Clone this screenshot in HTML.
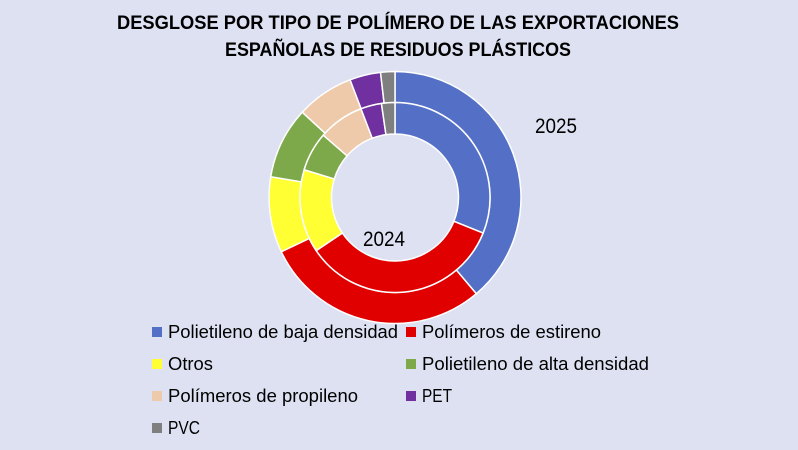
<!DOCTYPE html>
<html><head><meta charset="utf-8"><style>
html,body{margin:0;padding:0;background:#dde1f2;}
svg{display:block;}
text{font-family:"Liberation Sans",sans-serif;fill:#000;}
</style></head><body>
<svg id="s" width="798" height="450" viewBox="0 0 798 450">
<rect width="798" height="450" fill="#dde1f2"/>
<text x="398" y="29" text-anchor="middle" font-size="19" font-weight="bold" textLength="562" lengthAdjust="spacingAndGlyphs">DESGLOSE POR TIPO DE POLÍMERO DE LAS EXPORTACIONES</text>
<text x="398" y="56" text-anchor="middle" font-size="19" font-weight="bold" textLength="346" lengthAdjust="spacingAndGlyphs">ESPAÑOLAS DE RESIDUOS PLÁSTICOS</text>
<g id="rings"></g>
<text x="535" y="133" font-size="21" textLength="42" lengthAdjust="spacingAndGlyphs">2025</text>
<text x="363" y="246" font-size="21" textLength="42" lengthAdjust="spacingAndGlyphs">2024</text>
<g font-size="18">
<rect x="152" y="327" width="10" height="10" fill="#5470c6"/><text x="168" y="338" textLength="230" lengthAdjust="spacingAndGlyphs">Polietileno de baja densidad</text>
<rect x="406" y="327" width="10" height="10" fill="#e00000"/><text x="422" y="338" textLength="179" lengthAdjust="spacingAndGlyphs">Polímeros de estireno</text>
<rect x="152" y="359" width="10" height="10" fill="#ffff33"/><text x="168" y="370" textLength="45" lengthAdjust="spacingAndGlyphs">Otros</text>
<rect x="406" y="359" width="10" height="10" fill="#7ea94a"/><text x="422" y="370" textLength="227" lengthAdjust="spacingAndGlyphs">Polietileno de alta densidad</text>
<rect x="152" y="391" width="10" height="10" fill="#eecaaa"/><text x="168" y="402" textLength="190" lengthAdjust="spacingAndGlyphs">Polímeros de propileno</text>
<rect x="406" y="391" width="10" height="10" fill="#7030a0"/><text x="422" y="402" textLength="30" lengthAdjust="spacingAndGlyphs">PET</text>
<rect x="152" y="423" width="10" height="10" fill="#7f7f7f"/><text x="168" y="434" textLength="32" lengthAdjust="spacingAndGlyphs">PVC</text>
</g>
</svg>
<script>
var cx=395,cy=197.5;
var cols=["#5470c6","#e00000","#ffff33","#7ea94a","#eecaaa","#7030a0","#7f7f7f"];
function pt(r,a){a=a*Math.PI/180;return [cx+r*Math.sin(a),cy-r*Math.cos(a)];}
function arc(r0,r1,a0,a1,c){var l=(a1-a0)>180?1:0;var p1=pt(r1,a0),p2=pt(r1,a1),p3=pt(r0,a1),p4=pt(r0,a0);
return '<path d="M'+p1+' A'+r1+' '+r1+' 0 '+l+' 1 '+p2+' L'+p3+' A'+r0+' '+r0+' 0 '+l+' 0 '+p4+' Z" fill="'+c+'" stroke="#fff" stroke-width="1.5"/>';}
var outer=[0,139.8,244.5,279.5,312.6,339.1,353.4,360];
var inner=[0,112,236,287,311,339,351.8,360];
var h='';
for(var i=0;i<7;i++){h+=arc(95,126,outer[i],outer[i+1],cols[i]);h+=arc(63.5,95,inner[i],inner[i+1],cols[i]);}
document.getElementById('rings').innerHTML=h;
</script>
</body></html>
